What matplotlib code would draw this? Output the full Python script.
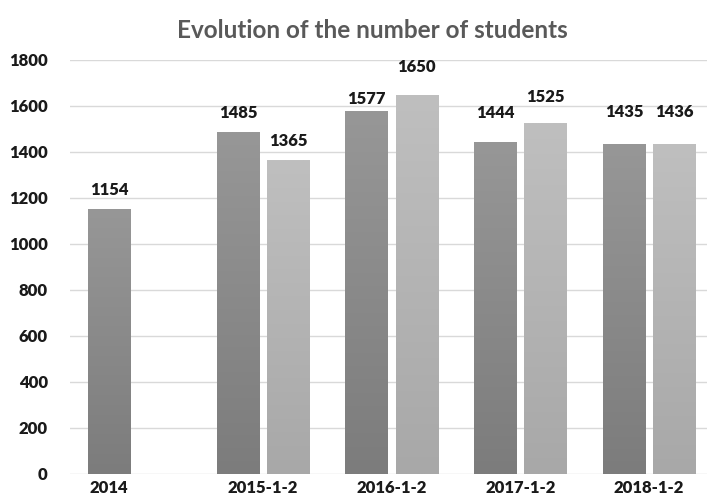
import numpy as np
import matplotlib.pyplot as plt
from matplotlib.colors import LinearSegmentedColormap

plt.rcParams['font.family'] = ['Lato', 'DejaVu Sans']

categories = ['2014', '2015-1-2', '2016-1-2', '2017-1-2', '2018-1-2']
first_vals = [1154, 1485, 1577, 1444, 1435]
second_vals = [np.nan, 1365, 1650, 1525, 1436]

# label offsets above the bar top, in pixels (the original is irregular)
first_off = [19, 19, 12, 29, 32]
second_off = [None, 19, 28, 26, 32]

fig = plt.figure(figsize=(7.07, 4.97), dpi=100)
ax = fig.add_axes([70 / 707, 1 - 474 / 497, 1 - 70 / 707, (474 - 60) / 497])

x = np.arange(len(categories))
w = 0.33
d = 0.195

dark = LinearSegmentedColormap.from_list('dark', ['#7c7c7c', '#979797'])
light = LinearSegmentedColormap.from_list('light', ['#a8a8a8', '#bfbfbf'])
grad = np.linspace(0, 1, 256).reshape(-1, 1)


def shade(bars, cmap):
    for b in bars:
        if np.isnan(b.get_height()):
            continue
        b.set_facecolor('none')
        x0, y0 = b.get_x(), b.get_y()
        im = ax.imshow(grad, cmap=cmap, origin='lower', aspect='auto',
                       extent=[x0, x0 + b.get_width(), y0, y0 + b.get_height()],
                       zorder=2)
        im.set_clip_path(b)


b1 = ax.bar(x - d, first_vals, w, edgecolor='none', zorder=2)
b2 = ax.bar(x + d, second_vals, w, edgecolor='none', zorder=2)
shade(b1, dark)
shade(b2, light)

for bars, offs in [(b1, first_off), (b2, second_off)]:
    for b, o in zip(bars, offs):
        h = b.get_height()
        if np.isnan(h):
            continue
        ax.annotate(f'{int(h)}', (b.get_x() + b.get_width() / 2, h),
                    xytext=(0, o), textcoords='offset pixels',
                    ha='center', va='center', fontsize=12,
                    fontweight='heavy', color='#1a1a1a')

ax.set_xlim(-0.5, 4.45)
ax.set_ylim(0, 1800)
ax.set_yticks(np.arange(0, 1801, 200))
ax.grid(axis='y', color='#d9d9d9', linewidth=1, zorder=0)
ax.set_axisbelow(True)

tick_pos = [x[0] - d] + list(x[1:])
ax.set_xticks(tick_pos)
ax.set_xticklabels(categories)
for s in ax.spines.values():
    s.set_visible(False)
ax.tick_params(length=0, labelsize=12, colors='#1a1a1a')
ax.tick_params(axis='y', pad=16)
ax.tick_params(axis='x', pad=4)
for lab in ax.get_xticklabels() + ax.get_yticklabels():
    lab.set_fontweight('heavy')

fig.text(0.527, 1 - 30 / 497, 'Evolution of the number of students',
         ha='center', va='center', fontsize=17.5, fontweight='bold',
         color='#595959')

fig.savefig('out.png', dpi=100)
